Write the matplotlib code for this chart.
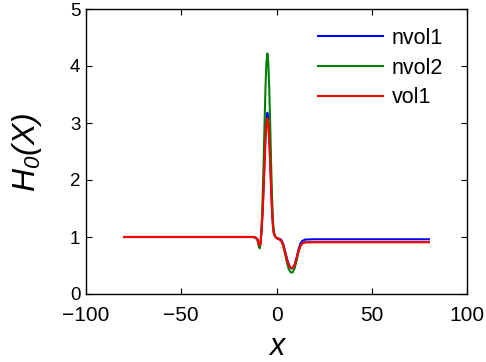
import matplotlib
matplotlib.use("Agg")
import matplotlib.pyplot as plt

plt.rcParams['font.family'] = ['Liberation Sans', 'DejaVu Sans']
plt.rcParams['mathtext.fontset'] = 'custom'
plt.rcParams['mathtext.it'] = 'Liberation Sans:italic'
plt.rcParams['mathtext.rm'] = 'Liberation Sans:italic'
plt.rcParams['mathtext.default'] = 'it'

x = [-80, -20, -12, -11, -10, -9.3, -8.8, -8.3, -7.8, -7.3, -6.8, -6.3, -5.8, -5.3, -4.8,
     -4.3, -3.8, -3.3, -2.8, -2.3, -1.8, -1.3, -0.5, 0.5, 1.5, 2.5, 3.5, 4.5, 5.5, 6.5,
     7.5, 8.5, 9.5, 10.5, 11.5, 12.5, 13.5, 15, 20, 80]

nvol1 = [1.0, 1.0, 1.0, 0.99, 0.96, 0.87, 0.85, 0.92, 1.14, 1.44, 1.85, 2.33, 2.77, 3.07, 3.18,
         3.07, 2.77, 2.33, 1.85, 1.44, 1.17, 1.05, 1.0, 0.98, 0.97, 0.95, 0.88, 0.75, 0.62, 0.51,
         0.45, 0.45, 0.51, 0.63, 0.77, 0.88, 0.93, 0.955, 0.96, 0.96]

nvol2 = [1.0, 1.0, 1.0, 0.99, 0.95, 0.84, 0.80, 0.9, 1.2, 1.65, 2.25, 2.95, 3.6, 4.05, 4.22,
         4.05, 3.6, 2.95, 2.25, 1.65, 1.25, 1.08, 1.0, 0.97, 0.96, 0.93, 0.85, 0.7, 0.55, 0.43,
         0.38, 0.38, 0.45, 0.58, 0.73, 0.84, 0.89, 0.91, 0.91, 0.91]

vol1 = [1.0, 1.0, 1.0, 0.99, 0.96, 0.87, 0.85, 0.92, 1.13, 1.42, 1.81, 2.26, 2.68, 2.97, 3.08,
        2.97, 2.68, 2.26, 1.81, 1.42, 1.16, 1.05, 1.0, 0.97, 0.96, 0.93, 0.86, 0.73, 0.6, 0.5,
        0.46, 0.46, 0.51, 0.62, 0.75, 0.84, 0.89, 0.905, 0.91, 0.91]

series_names = ['nvol1', 'nvol2', 'vol1']
colors = ['#0000ff', '#008000', '#ff0000']
xticks = [-100, -50, 0, 50, 100]
xticklabels = ['\u2212100', '\u221250', '0', '50', '100']
yticks = [0, 1, 2, 3, 4, 5]

fig = plt.figure(figsize=(4.86, 3.62), dpi=100)
ax = fig.add_axes([86/486, 1-294/362, (467-86)/486, (294-9)/362])

for y, name, c in zip([nvol1, nvol2, vol1], series_names, colors):
    ax.plot(x, y, color=c, lw=1.5, label=name)

ax.set_xlim(-100, 100)
ax.set_ylim(0, 5)
ax.set_xticks(xticks)
ax.set_yticks(yticks)
ax.set_xticklabels(xticklabels)
ax.tick_params(direction='in', length=4, width=0.8, top=True, right=True)
ax.tick_params(axis='x', labelsize=15, pad=8.5)
ax.tick_params(axis='y', labelsize=13.5, pad=4)
for s in ax.spines.values():
    s.set_linewidth(1.0)

ax.set_xlabel(r'$x$', fontsize=22, va='center')
ax.xaxis.set_label_coords((278-86)/381, -(347-294)/285)
ax.set_ylabel(r'$H_0(X)$', fontsize=23, va='center')
ax.yaxis.set_label_coords((27-86)/381, (294-152)/285)

leg = ax.legend(loc='upper left', bbox_to_anchor=(318/486, 1-28/362), bbox_transform=fig.transFigure,
                frameon=False, fontsize=15.5, handlelength=3.0, handletextpad=0.42,
                labelspacing=0.40, borderpad=0, borderaxespad=0)

fig.savefig('out.png', dpi=100)
